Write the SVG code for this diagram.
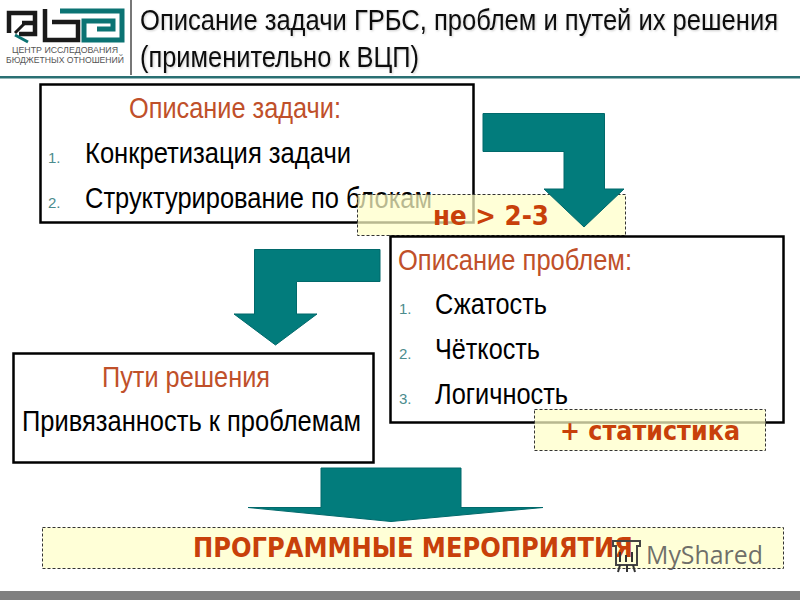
<svg xmlns="http://www.w3.org/2000/svg" width="800" height="600" viewBox="0 0 800 600">
<defs>
<filter id="soft" x="-5%" y="-20%" width="110%" height="140%"><feDropShadow dx="1" dy="1" stdDeviation="1" flood-color="#000" flood-opacity=".2"/></filter>
</defs>
<style>
text{font-family:"Liberation Sans",Arial,sans-serif}
.box{fill:#fff;stroke:#000;stroke-width:2.500}
.note{fill:#ffffc8;fill-opacity:.72;stroke:#333;stroke-width:1;stroke-dasharray:3 2}
.arrow{fill:#027c7c;stroke:#01696b;stroke-width:1}
.head{font-size:30px;fill:#c0502a}
.item{font-size:30px;fill:#000}
.num{font-size:15px;fill:#4b8c8e}
.em{font-family:"DejaVu Sans",Verdana,sans-serif;font-weight:bold;fill:#c8400a;font-size:26px}
.title{font-size:30px;fill:#111;filter:url(#soft)}
.logo{fill:none;stroke:#1a1a1a;stroke-width:4.500}
.logot{fill:none;stroke:#0b7373;stroke-width:5}
.lt{font-size:9px;fill:#555}
</style>
<rect width="800" height="600" fill="#fff"/>
<g id="header">
<path class="logo" d="M9 33V13H35V34H19"/>
<path class="logo" d="M35 23H22"/>
<path class="logo" d="M45 9V40H78V22H52"/>
<path class="logot" d="M60 11H122V40H84V21H113V29H97"/>
<path d="M25 23L15 33" fill="none" stroke="#1a1a1a" stroke-width="3"/>
<path d="M15 35L28 42" stroke="#0b7373" stroke-width="3"/>
<text class="lt" x="65" y="53" text-anchor="middle" textLength="106" lengthAdjust="spacingAndGlyphs">ЦЕНТР ИССЛЕДОВАНИЯ</text>
<text class="lt" x="65" y="63" text-anchor="middle" textLength="118" lengthAdjust="spacingAndGlyphs">БЮДЖЕТНЫХ ОТНОШЕНИЙ</text>
<rect x="130" y="0" width="2" height="75" fill="#777"/>
<rect x="0" y="76" width="800" height="2.500" fill="#2a7073"/>
<text class="title" x="140" y="30" textLength="638" lengthAdjust="spacingAndGlyphs">Описание задачи ГРБС, проблем и путей их решения</text>
<text class="title" x="140" y="67" textLength="279" lengthAdjust="spacingAndGlyphs">(применительно к ВЦП)</text>
</g>
<g id="task">
<rect class="box" x="40.500" y="84.500" width="433" height="138"/>
<text class="head" x="129" y="118" textLength="212" lengthAdjust="spacingAndGlyphs">Описание задачи:</text>
<text class="num" x="48" y="163">1.</text>
<text class="item" x="85" y="163" textLength="266" lengthAdjust="spacingAndGlyphs">Конкретизация задачи</text>
<text class="num" x="48" y="208">2.</text>
<text class="item" x="85" y="208" textLength="347" lengthAdjust="spacingAndGlyphs">Структурирование по блокам</text>
</g>
<g id="limit">
<rect class="note" x="357.500" y="194.500" width="268" height="41"/>
<text class="em" x="433" y="225" textLength="116" lengthAdjust="spacingAndGlyphs">не &gt; 2-3</text>
</g>
<g id="problems">
<rect class="box" x="390.500" y="236.500" width="393" height="186"/>
<text class="head" x="398" y="270" textLength="234" lengthAdjust="spacingAndGlyphs">Описание проблем:</text>
<text class="num" x="399" y="314">1.</text>
<text class="item" x="435" y="314" textLength="112" lengthAdjust="spacingAndGlyphs">Сжатость</text>
<text class="num" x="399" y="359">2.</text>
<text class="item" x="435" y="359" textLength="105" lengthAdjust="spacingAndGlyphs">Чёткость</text>
<text class="num" x="399" y="404">3.</text>
<text class="item" x="435" y="404" textLength="133" lengthAdjust="spacingAndGlyphs">Логичность</text>
</g>
<g id="stat">
<rect class="note" x="534.500" y="409.500" width="231" height="41"/>
<text class="em" x="560" y="440" textLength="180" lengthAdjust="spacingAndGlyphs">+ статистика</text>
</g>
<g id="solutions">
<rect class="box" x="13.500" y="353.500" width="360" height="109"/>
<text class="head" x="102" y="387" textLength="168" lengthAdjust="spacingAndGlyphs">Пути решения</text>
<text class="item" x="22" y="431" textLength="339" lengthAdjust="spacingAndGlyphs">Привязанность к проблемам</text>
</g>
<g id="measures">
<rect class="note" x="42.500" y="527.500" width="741" height="41"/>
<text class="em" x="193" y="557" textLength="440" lengthAdjust="spacingAndGlyphs">ПРОГРАММНЫЕ МЕРОПРИЯТИЯ</text>
</g>
<g id="connectors">
<path class="arrow" d="M483 113.500H604.500V189H624L584 227L544 189H564V151.500H483Z"/>
<path class="arrow" d="M380 249.500H254.500V314H234L275.500 345L317 314H296.500V281.500H380Z"/>
<path class="arrow" d="M321 468H461V507.500H543L391 521.500L248 507.500H321Z"/>
</g>
<g id="watermark">
<text x="646" y="564" font-size="26" fill="#555" fill-opacity=".85" style="font-family:'Open Sans',sans-serif" textLength="117" lengthAdjust="spacingAndGlyphs">MyShared</text>
<path d="M613 541H640V546H637V565H616V546H613Z" fill="none" stroke="#444" stroke-width="2"/>
<path d="M620 565L618 572M627 565V572M633 565L635 572M620 552V562M626 555V562M632 552V562" stroke="#333" stroke-width="2" fill="none"/>
</g>
<rect x="0" y="591" width="800" height="9" fill="#808080"/>
</svg>
